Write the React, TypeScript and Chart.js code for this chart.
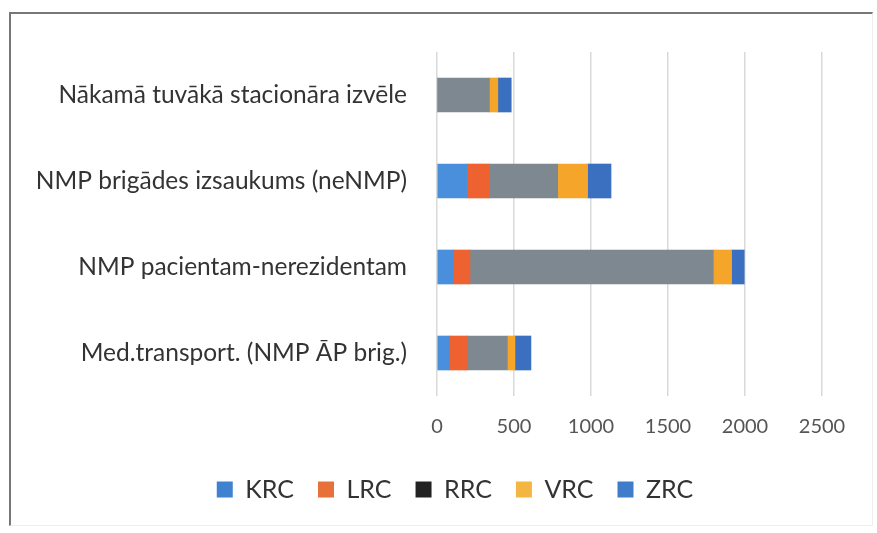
import React, { useEffect, useRef } from "react";
import { Chart, registerables } from "chart.js";

Chart.register(...registerables);

const categories = [
  "Nākamā tuvākā stacionāra izvēle",
  "NMP brigādes izsaukums (neNMP)",
  "NMP pacientam-nerezidentam",
  "Med.transport. (NMP ĀP brig.)",
];
const seriesNames = ["KRC", "LRC", "RRC", "VRC", "ZRC"];
const KRC = [0, 193, 106, 80];
const LRC = [0, 147, 108, 119];
const RRC = [340, 444, 1580, 258];
const VRC = [55, 194, 119, 49];
const ZRC = [87, 152, 82, 104];
const xTicks = [0, 500, 1000, 1500, 2000, 2500];

const barColors = ["#4a8fdc", "#ee6232", "#7e8890", "#f5a62a", "#3b6fbf"];
const legendColors = ["#3f82d0", "#e8703a", "#222222", "#f3b640", "#3f7ccc"];

const legendShift = {
  id: "legendShift",
  afterLayout(chart: any) {
    const lg = chart.legend;
    if (!lg) return;
    lg.left += 44;
    lg.right += 44;
    lg.top -= 5;
    lg.bottom -= 5;
  },
};

export default function App() {
  const ref = useRef<HTMLCanvasElement | null>(null);
  useEffect(() => {
    const values = [KRC, LRC, RRC, VRC, ZRC];
    const chart = new Chart(ref.current as HTMLCanvasElement, {
      type: "bar",
      data: {
        labels: categories,
        datasets: seriesNames.map((n, i) => ({
          label: n,
          data: values[i],
          backgroundColor: barColors[i],
          borderWidth: 0,
          barThickness: 34,
        })),
      },
      options: {
        indexAxis: "y",
        responsive: false,
        animation: false,
        layout: { padding: { top: 52, right: 55, bottom: 16, left: 0 } },
        plugins: {
          tooltip: { enabled: false },
          legend: {
            position: "bottom",
            labels: {
              font: { family: "Lato", size: 25 },
              color: "#333",
              boxWidth: 16,
              boxHeight: 16,
              padding: 24,
              generateLabels: (c: any) => {
                const base = Chart.defaults.plugins.legend.labels.generateLabels(c);
                return base.map((l: any, i: number) => ({
                  ...l,
                  fillStyle: legendColors[i],
                  strokeStyle: legendColors[i],
                  lineWidth: 0,
                }));
              },
            },
          },
        },
        scales: {
          x: {
            stacked: true,
            min: 0,
            max: 2500,
            afterBuildTicks: (s: any) => {
              s.ticks = xTicks.map((v) => ({ value: v }));
            },
            afterFit: (s: any) => {
              s.height = 62;
            },
            grid: { color: "#d9d9d9", lineWidth: 1.5, drawTicks: false },
            border: { display: false },
            ticks: {
              font: { family: "Lato", size: 20 },
              color: "#555",
              padding: 19,
              callback: (v: any) => String(v),
            },
          },
          y: {
            stacked: true,
            afterFit: (s: any) => {
              s.width = 437;
            },
            grid: { display: false },
            border: { display: false },
            ticks: {
              font: { family: "Lato", size: 24.5 },
              color: "#333",
              padding: 22,
            },
          },
        },
      },
      plugins: [legendShift],
    });
    return () => chart.destroy();
  }, []);
  return (
    <div style={{ position: "absolute", left: 0, top: 0, width: 877, height: 533, background: "#fff" }}>
      <div
        style={{
          position: "absolute",
          left: 9,
          top: 12,
          width: 864,
          height: 514,
          borderTop: "2px solid #777",
          borderLeft: "2px solid #777",
          borderRight: "1px solid #eee",
          borderBottom: "1px solid #eee",
          boxSizing: "border-box",
        }}
      />
      <canvas ref={ref} width={877} height={533} style={{ position: "absolute", left: 0, top: 0 }} />
    </div>
  );
}
